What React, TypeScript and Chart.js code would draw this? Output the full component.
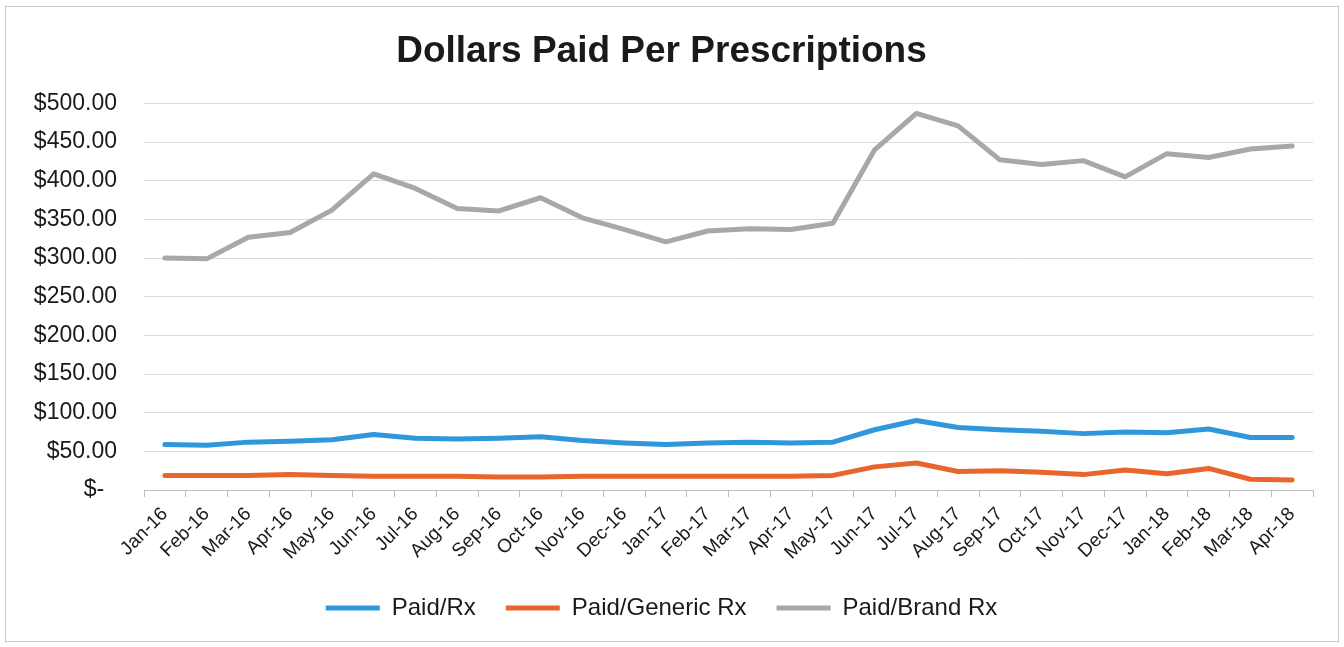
import React, { useEffect, useRef } from "react";
import { Chart, registerables } from "chart.js";

Chart.register(...registerables);

const months = [
  "Jan-16", "Feb-16", "Mar-16", "Apr-16", "May-16", "Jun-16", "Jul-16", "Aug-16", "Sep-16", "Oct-16",
  "Nov-16", "Dec-16", "Jan-17", "Feb-17", "Mar-17", "Apr-17", "May-17", "Jun-17", "Jul-17", "Aug-17",
  "Sep-17", "Oct-17", "Nov-17", "Dec-17", "Jan-18", "Feb-18", "Mar-18", "Apr-18",
];

const paidRx = [
  59, 58, 62, 63, 65, 72, 67, 66, 67, 69, 64, 61, 59, 61, 62, 61, 62, 78, 90, 81, 78, 76, 73, 75, 74, 79, 68, 68,
];

const paidGeneric = [
  19, 19, 19, 20, 19, 18, 18, 18, 17, 17, 18, 18, 18, 18, 18, 18, 19, 30, 35, 24, 25, 23, 20, 26, 21, 28, 14, 13,
];

const paidBrand = [
  300, 299, 327, 333, 362, 409, 390, 364, 361, 378, 352, 337, 321, 335, 338, 337, 345, 440, 487, 471, 427, 421, 426,
  405, 435, 430, 441, 445,
];

const seriesNames = ["Paid/Rx", "Paid/Generic Rx", "Paid/Brand Rx"];
const seriesColors = ["#2f97db", "#e8662c", "#a8a8a8"];

const yTicks = [0, 50, 100, 150, 200, 250, 300, 350, 400, 450, 500];

const framePlugin = {
  id: "frame",
  beforeDraw(chart: any) {
    const ctx = chart.ctx;
    ctx.save();
    ctx.fillStyle = "#ffffff";
    ctx.fillRect(0, 0, chart.width, chart.height);
    ctx.strokeStyle = "#c8c8c8";
    ctx.lineWidth = 1;
    ctx.strokeRect(5.5, 6.5, chart.width - 11, chart.height - 12);
    ctx.restore();
  },
};

export default function App() {
  const ref = useRef<HTMLCanvasElement | null>(null);

  useEffect(() => {
    if (!ref.current) return;
    const data = [paidRx, paidGeneric, paidBrand];
    const chart = new Chart(ref.current, {
      type: "line",
      data: {
        labels: months,
        datasets: seriesNames.map((name, i) => ({
          label: name,
          data: data[i],
          borderColor: seriesColors[i],
          backgroundColor: seriesColors[i],
          borderWidth: 5,
          pointRadius: 0,
          tension: 0,
          borderCapStyle: "round",
          borderJoinStyle: "round",
        })),
      },
      options: {
        animation: false,
        responsive: true,
        maintainAspectRatio: false,
        layout: { padding: { left: 10, right: 31, top: 22, bottom: 17 } },
        plugins: {
          title: {
            display: true,
            text: "Dollars Paid Per Prescriptions",
            color: "#1a1a1a",
            font: { family: "Liberation Sans, Arial, sans-serif", size: 37, weight: "bold" },
            padding: { top: 8, bottom: 29 },
          },
          legend: {
            position: "bottom",
            labels: {
              color: "#1a1a1a",
              font: { family: "Liberation Sans, Arial, sans-serif", size: 24 },
              boxWidth: 54,
              boxHeight: 5,
              padding: 30,
              generateLabels(chart: any) {
                return chart.data.datasets.map((ds: any, i: number) => ({
                  text: ds.label,
                  fillStyle: ds.borderColor,
                  strokeStyle: ds.borderColor,
                  lineWidth: 0,
                  hidden: false,
                  datasetIndex: i,
                  fontColor: "#1a1a1a",
                }));
              },
            },
          },
          tooltip: { enabled: false },
        },
        scales: {
          x: {
            offset: true,
            afterFit(scale: any) {
              scale.height = scale.height - 4;
            },
            grid: {
              display: true,
              offset: true,
              drawOnChartArea: false,
              drawTicks: true,
              tickLength: 7,
              color: "#bfbfbf",
            },
            border: { display: true, color: "#bfbfbf" },
            ticks: {
              color: "#1a1a1a",
              font: { family: "Liberation Sans, Arial, sans-serif", size: 19 },
              maxRotation: 45,
              minRotation: 45,
              autoSkip: false,
              padding: 6,
            },
          },
          y: {
            min: 0,
            max: 500,
            afterBuildTicks(scale: any) {
              scale.ticks = yTicks.map((v) => ({ value: v }));
            },
            afterFit(scale: any) {
              scale.width = 134;
            },
            grid: { color: "#d9d9d9", drawTicks: false },
            border: { display: false },
            ticks: {
              color: "#1a1a1a",
              font: { family: "Liberation Sans, Arial, sans-serif", size: 23 },
              padding: 27,
              callback: (v: any) => (Number(v) === 0 ? "$-  " : "$" + Number(v).toFixed(2)),
            },
          },
        },
      },
      plugins: [framePlugin],
    });
    return () => chart.destroy();
  }, []);

  return (
    <div style={{ position: "fixed", left: 0, top: 0, width: 1344, height: 647 }}>
      <canvas ref={ref} />
    </div>
  );
}
